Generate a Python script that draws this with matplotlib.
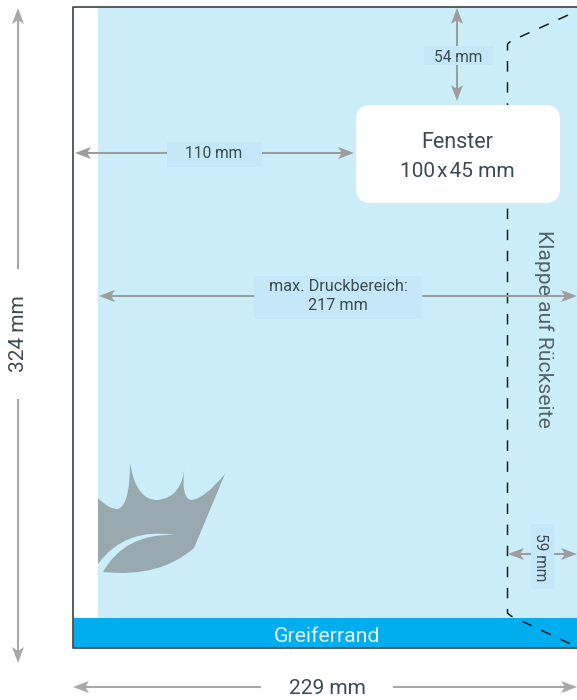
import matplotlib.pyplot as plt
from matplotlib.patches import Rectangle, FancyBboxPatch, PathPatch, Polygon
from matplotlib.path import Path

plt.rcParams['font.family'] = ['Roboto', 'DejaVu Sans']

GRAY = '#9d9d9c'
OUTER_GRAY = '#a8a8a7'
TEXT = '#3c4a52'
SIDE_TEXT = '#55636b'
LIGHT = '#cceefb'
LABEL_BG = '#c6e7f8'
CYAN = '#00aeef'

# dimension arrows: start, end (image pixels)
h_arrows = [(75, 354, 153), (99, 577, 296), (508, 577, 554)]
v_arrows = [(457, 8, 101)]

# text labels with their background box: text, x, y, fontsize, rotation, box
labels = [
    ('54 mm', 458, 57.5, 11.2, 0, (424, 46, 69, 19)),
    ('110 mm', 214, 153, 11.2, 0, (167, 142, 95, 25)),
    ('max. Druckbereich:\n217 mm', 338, 296, 11.7, 0, (254, 276, 168, 43)),
    ('59 mm', 541, 557, 11.2, 270, (531, 524, 23, 65)),
]

# dashed flap line
flap_x = [577, 511, 507.5, 507.5, 511, 577]
flap_y = [11, 41, 44, 613, 616, 647]

# crown logo
logo_verts = [(98, 498), (110, 510), (118, 509), (130, 505), (130, 463), (136, 500), (157, 500),
              (183, 498), (185, 463), (180, 500), (192, 500), (205, 498), (225, 474), (194, 548),
              (160, 578), (103, 572), (125, 533), (175, 535), (125, 527), (98, 564), (98, 498)]
logo_codes = [Path.MOVETO, Path.CURVE3, Path.CURVE3, Path.CURVE3, Path.CURVE3, Path.CURVE3, Path.CURVE3,
              Path.CURVE3, Path.CURVE3, Path.CURVE3, Path.CURVE3, Path.CURVE3, Path.CURVE3, Path.LINETO,
              Path.CURVE3, Path.CURVE3, Path.CURVE3, Path.CURVE3, Path.CURVE3, Path.CURVE3, Path.CLOSEPOLY]

fig = plt.figure(figsize=(5.77, 7), dpi=100)
ax = fig.add_axes([0, 0, 1, 1])
ax.set_xlim(0, 577)
ax.set_ylim(700, 0)
ax.axis('off')


def head(x, y, dx, dy, color=GRAY, z=6):
    # notched arrow head, (dx, dy) is the pointing direction
    l, w, n = 16, 6, 12
    px, py = -dy, dx
    pts = [(x, y),
           (x - dx * l + px * w, y - dy * l + py * w),
           (x - dx * n, y - dy * n),
           (x - dx * l - px * w, y - dy * l - py * w)]
    ax.add_patch(Polygon(pts, closed=True, fc=color, ec='none', zorder=z))


def harrow(x0, x1, y, left=True, right=True, color=GRAY):
    ax.plot([x0 + 5 * left, x1 - 5 * right], [y, y], color=color, lw=1.5, zorder=5, solid_capstyle='butt')
    if left:
        head(x0, y, -1, 0, color)
    if right:
        head(x1, y, 1, 0, color)


def varrow(x, y0, y1, top=True, bottom=True, color=GRAY):
    ax.plot([x, x], [y0 + 5 * top, y1 - 5 * bottom], color=color, lw=1.5, zorder=5, solid_capstyle='butt')
    if top:
        head(x, y0, 0, -1, color)
    if bottom:
        head(x, y1, 0, 1, color)


# page
ax.add_patch(Rectangle((98, 7), 479, 611, fc=LIGHT, ec='none', zorder=1))
ax.add_patch(Rectangle((73, 618), 504, 30, fc=CYAN, ec='none', zorder=1))
ax.plot([577, 73, 73, 577], [6.5, 6.5, 648, 648], color='#4a4f52', lw=1.3, zorder=3)

ax.add_patch(PathPatch(Path(logo_verts, logo_codes), fc='#98a9af', ec='none', zorder=2))

flap, = ax.plot(flap_x, flap_y, color='#1d1d1b', lw=1.1, zorder=3)
flap.set_linestyle((7.27, (6.87, 6.92)))

# window sits on top of the flap line
ax.add_patch(FancyBboxPatch((371, 120), 174, 68, boxstyle='round,pad=15,rounding_size=15',
                            fc='white', ec='none', zorder=4))
ax.text(457, 142.5, 'Fenster', fontsize=15.5, color=TEXT, ha='center', va='center', zorder=8)
ax.text(457, 171.5, '100\u200ax\u200a45 mm', fontsize=15, color=TEXT, ha='center', va='center', zorder=8)

for a in h_arrows:
    harrow(*a)
for a in v_arrows:
    varrow(*a)

for txt, x, y, fs, rot, box in labels:
    ax.add_patch(Rectangle((box[0], box[1]), box[2], box[3], fc=LABEL_BG, ec='none', zorder=6))
    ax.text(x, y, txt, fontsize=fs, color=TEXT, ha='center', va='center', rotation=rot,
            linespacing=1.3, zorder=8)

ax.text(544, 329, 'Klappe auf Rückseite', fontsize=15.2, color=SIDE_TEXT, ha='center', va='center',
        rotation=270, zorder=8)
ax.text(327, 636.5, 'Greiferrand', fontsize=15.3, color='#e8f7fd', ha='center', va='center', zorder=8)

# outer measures
varrow(18, 8, 269, bottom=False, color=OUTER_GRAY)
varrow(18, 399, 663, top=False, color=OUTER_GRAY)
ax.text(19, 334, '324 mm', fontsize=15, color=TEXT, ha='center', va='center', rotation=90)
harrow(73, 261, 687, right=False, color=OUTER_GRAY)
harrow(393, 577, 687, left=False, color=OUTER_GRAY)
ax.text(327, 688, '229 mm', fontsize=15, color=TEXT, ha='center', va='center')

fig.savefig('out.png', dpi=100)
